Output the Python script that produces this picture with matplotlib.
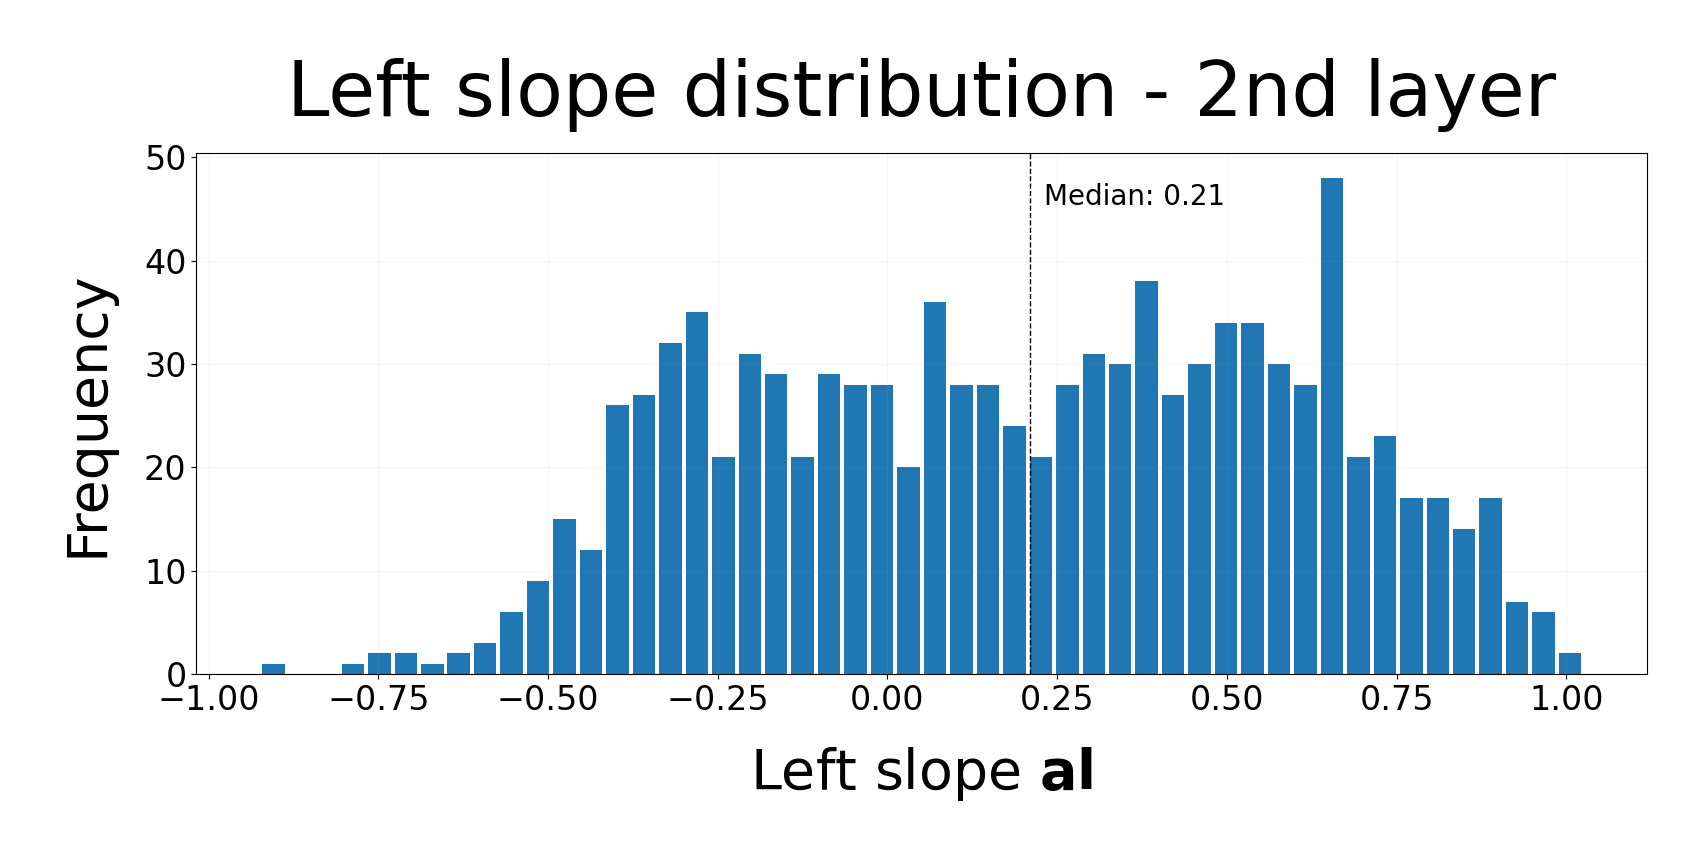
import numpy as np
import matplotlib
matplotlib.use("Agg")
import matplotlib.pyplot as plt

# 直方图数据
x_min, x_max = -0.924, 1.025
counts = [1, 0, 0, 1, 2, 2, 1, 2, 3, 6,
          9, 15, 12, 26, 27, 32, 35, 21, 31, 29,
          21, 29, 28, 28, 20, 36, 28, 28, 24, 21,
          28, 31, 30, 38, 27, 30, 34, 34, 30, 28,
          48, 21, 23, 17, 17, 14, 17, 7, 6, 2]
median = 0.21

edges = np.linspace(x_min, x_max, len(counts) + 1)
centers = (edges[:-1] + edges[1:]) / 2

fig = plt.figure(figsize=(17.07, 8.63), dpi=100)
ax = fig.add_axes([0.115, 0.219, 0.85, 0.6035])

ax.hist(centers, bins=edges, weights=counts, rwidth=0.85, color='#1f77b4')
ax.axvline(median, color='black', linestyle='--', linewidth=1)
ax.text(median * 1.1, ax.get_ylim()[1] * 0.9, f'Median: {median:.2f}', fontsize=20)

ax.set_title('Left slope distribution - 2nd layer', fontsize=55, pad=27)
ax.set_xlabel(r'Left slope $\mathbf{al}$', fontsize=40, labelpad=20)
ax.set_ylabel('Frequency', fontsize=40, labelpad=21)
ax.tick_params(labelsize=24)
ax.grid(alpha=0.1)

fig.savefig('out.png', dpi=100)
